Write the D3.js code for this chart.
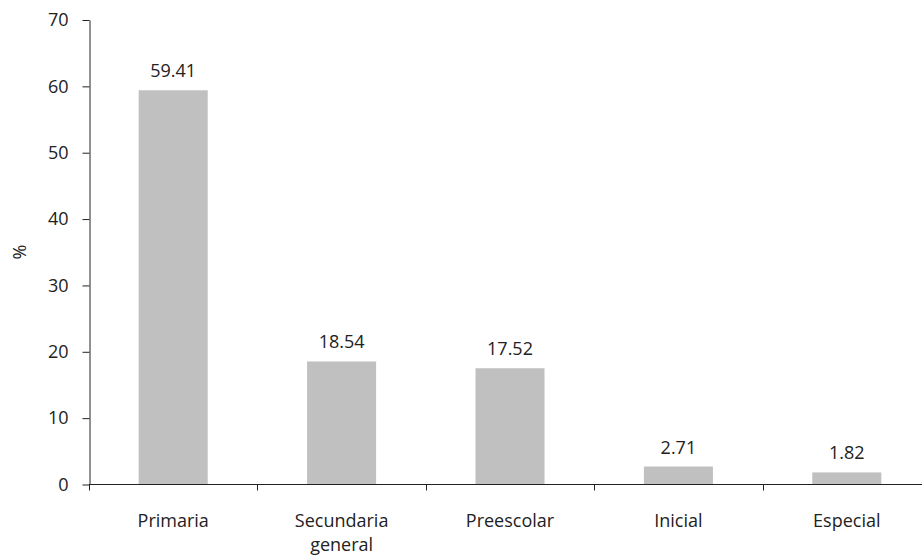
<!DOCTYPE html>
<html><head><meta charset="utf-8">
<script src="https://cdn.jsdelivr.net/npm/d3@7"></script>
<style>body{margin:0;background:#fff}svg{display:block}text{font-family:"Open Sans",sans-serif;font-weight:400;fill:#222}</style>
</head><body><svg id="c" width="922" height="556"></svg>
<script>
const categories = [["Primaria"], ["Secundaria","general"], ["Preescolar"], ["Inicial"], ["Especial"]];
const values = [59.41, 18.54, 17.52, 2.71, 1.82];
const yTicks = [0,10,20,30,40,50,60,70];
const yLabel = "%";
const FS = 18;

const svg = d3.select("#c");
const x = d3.scaleBand().domain(d3.range(values.length)).range([89, 931]).paddingInner(0.59).paddingOuter(0.295);
const y = d3.scaleLinear().domain([0,70]).range([484.5, 20]);

// bars
svg.append("g").selectAll("rect").data(values).join("rect")
  .attr("x", (d,i)=>x(i)).attr("width", x.bandwidth())
  .attr("y", d=>y(d)).attr("height", d=>y(0)-y(d)).attr("fill", "#c0c0c0");

// value labels
svg.append("g").selectAll("text").data(values).join("text")
  .attr("x", (d,i)=>x(i)+x.bandwidth()/2).attr("y", d=>y(d)-13)
  .attr("text-anchor","middle").attr("font-size",FS).text(d=>d.toFixed(2));

// y axis
const ya = svg.append("g").attr("transform","translate(89.5,0)")
  .call(d3.axisLeft(y).tickValues(yTicks).tickSize(7).tickSizeOuter(0).tickPadding(14));
ya.select(".domain").attr("stroke","#222");
ya.selectAll(".tick line").attr("stroke","#222");
ya.selectAll("text").attr("font-size",FS).style("font-family","'Open Sans',sans-serif").style("font-weight",400).attr("fill","#222");

// x axis
const xTickPos = d3.range(values.length).map(i => x(i) - x.step()*x.paddingInner()/2);
const xa = svg.append("g").attr("transform",`translate(0,${y(0)})`);
xa.append("line").attr("x1",89).attr("x2",931).attr("stroke","#222");
xa.selectAll("line.t").data(xTickPos).join("line").attr("class","t")
  .attr("x1",d=>Math.round(d)+0.5).attr("x2",d=>Math.round(d)+0.5).attr("y1",0).attr("y2",6).attr("stroke","#222");
xa.selectAll("text").data(categories).join("text")
  .attr("text-anchor","middle").attr("font-size",FS)
  .attr("transform",(d,i)=>`translate(${x(i)+x.bandwidth()/2},0)`)
  .each(function(d){
    const t = d3.select(this);
    d.forEach((line,k)=>t.append("tspan").attr("x",0).attr("y",42+k*24).text(line));
  });

// y label
svg.append("text").attr("transform","translate(26,252) rotate(-90)")
  .attr("text-anchor","middle").attr("font-size",FS).text(yLabel);
</script></body></html>
